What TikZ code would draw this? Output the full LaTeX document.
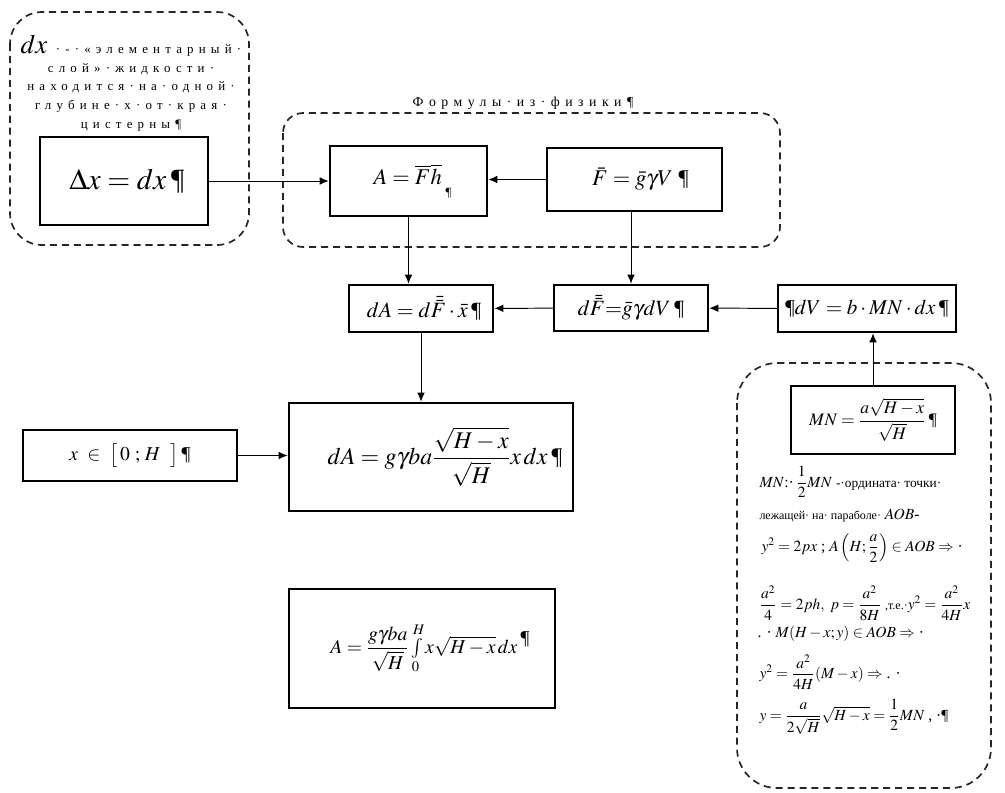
\documentclass[tikz,border=0pt]{standalone}
\usepackage{amsmath}
\usepackage{amssymb}
\usepackage{mathptmx}
\usepackage{fontspec}
\setmainfont{Liberation Serif}
\newfontfamily\spacedfont[LetterSpace=40]{Liberation Serif}
\newcommand{\smalltxt}[1]{{\fontsize{8.5}{10}\selectfont #1}}
\usepackage{pgf, tikz}
\usetikzlibrary{arrows.meta}

\begin{document}
\begin{tikzpicture}[
    auto,
    x = 0.025cm,
    y = -0.025cm,
    shorten >=0.5pt,
    >={Latex[length=6.5pt,width=5.5pt]},
    line width = 0.7pt,
    ]

    \tikzstyle{block}=[
    draw = black,
    line width = 0.8pt,
    fill = white,
    inner sep = 0pt,
    ]

    \tikzstyle{group}=[
    draw = black!85,
    line width = 1.2pt,
    dash pattern = on 5pt off 3.5pt,
    ]

    \tikzstyle{note}=[
    anchor = west,
    inner sep = 0pt,
    font = \fontsize{11}{13}\selectfont,
    ]

    \useasboundingbox (0,0) rectangle (1005,792);

    % dashed groups
    \draw[group, rounded corners=0.8cm] (10,12) rectangle (249,245);
    \draw[group, rounded corners=0.5cm] (283,113) rectangle (780,247);
    \draw[group, rounded corners=1cm] (737,363) rectangle (991,788);

    \node[align=center, anchor=north, font=\spacedfont\fontsize{9.2}{13.3}\selectfont] (dxnote) at (131,30)
    {{\normalfont\fontsize{19}{20}\selectfont $dx$}\ ·-·«элементарный·\\ слой»·жидкости·\\ находится·на·одной·\\ глубине·х·от·края·\\ цистерны¶};
    \node[font=\spacedfont\fontsize{9.8}{11}\selectfont] (phys) at (523,103) {Формулы·из·физики¶};

    \node[block, minimum width=4.2cm, minimum height=2.2cm] (dx) at (124,181)
    {\fontsize{21}{24}\selectfont \hspace{0.15cm}$\Delta x = dx$\,¶};
    \node[block, minimum width=3.925cm, minimum height=1.75cm] (a) at (408.5,181)
    {\fontsize{16}{18}\selectfont \hspace{0.2cm}$A = \overline{F}\overline{h}$\,\raisebox{-1.2ex}{\small ¶}};
    \node[block, minimum width=4.375cm, minimum height=1.575cm] (f) at (634.5,179.5)
    {\fontsize{16}{18}\selectfont \hspace{0.3cm}$\bar{F} = \bar{g}\gamma V$\ ¶};

    \node[block, minimum width=3.6cm, minimum height=1.175cm] (da) at (421,308.5)
    {\fontsize{15.5}{18}\selectfont \hspace{0.15cm}$dA = d\bar{\bar{F}}\cdot \bar{x}$\,¶};
    \node[block, minimum width=3.85cm, minimum height=1.15cm] (df) at (631,308)
    {\fontsize{15.5}{18}\selectfont $d\bar{\bar{F}}{=}\bar{g}\gamma dV$\,¶};
    \node[block, minimum width=4.45cm, minimum height=1.175cm] (dv) at (867,308.5)
    {\fontsize{15}{17}\selectfont ¶$dV = b\cdot MN\cdot dx$\,¶};

    \node[block, minimum width=5.35cm, minimum height=1.275cm] (xr) at (130,455.5)
    {\fontsize{14}{16}\selectfont $x\ \in\ \bigl[\,0\ ;\,H\ \ \bigr]$\,¶};
    \node[block, minimum width=7.1cm, minimum height=2.7cm] (dab) at (431,457)
    {\fontsize{17}{19}\selectfont \hspace{0.7cm}$dA = g\gamma ba\dfrac{\sqrt{H-x}}{\sqrt{H}}x\,dx$\,¶};
    \node[block, minimum width=6.65cm, minimum height=2.975cm] (ai) at (422,648.5)
    {\fontsize{14}{16}\selectfont \hspace{0.4cm}$A = \dfrac{g\gamma ba}{\sqrt{H}}\int\limits_0^H x\sqrt{H-x}\,dx$\,\raisebox{1ex}{¶}};

    \node[block, minimum width=4.1cm, minimum height=1.7cm] (mn) at (873,420)
    {\fontsize{12.5}{14}\selectfont $MN = \dfrac{a\sqrt{H-x}}{\sqrt{H}}$\,¶};

    % derivation of MN
    \node[note] (mn1) at (759,482) {$MN$:·\,$\dfrac{1}{2}MN$ {\fontsize{9.5}{11}\selectfont -·ордината·\ точки·}};
    \node[note] (mn2) at (759,516) {\smalltxt{лежащей· на· параболе·} $AOB$-};
    \node[note] (mn3) at (761,548) {$y^2 = 2px$ ; $A\left(H;\dfrac{a}{2}\right)\in AOB \Rightarrow$ ·};
    \node[note] (mn4) at (759,603) {$\dfrac{a^2}{4}=2ph,\ p=\dfrac{a^2}{8H}$ \smalltxt{,т.е.·}$y^2=\dfrac{a^2}{4H}x$};
    \node[note] (mn5) at (757,634) {. · $M(H-x;y)\in AOB\Rightarrow$ ·};
    \node[note] (mn6) at (759,672) {$y^2=\dfrac{a^2}{4H}(M-x)\Rightarrow$ . ·};
    \node[note] (mn7) at (759,717) {$y=\dfrac{a}{2\sqrt{H}}\sqrt{H-x}=\dfrac{1}{2}MN$ , ·¶};

    \path[->] (dx) edge (a);
    \draw[->] (f.west) -- (a.east |- f.west);
    \draw[->] (a.south) -- (a.south |- da.north);
    \draw[->] (df.north |- f.south) -- (df.north);
    \path[->] (dv) edge (df);
    \path[->] (df) edge (da);
    \draw[->] (da.south) -- (da.south |- dab.north);
    \draw[->] (xr.east) -- (xr.east -| dab.west);
    \draw[->] (mn.north) -- (mn.north |- dv.south);
  \end{tikzpicture}
\end{document}
